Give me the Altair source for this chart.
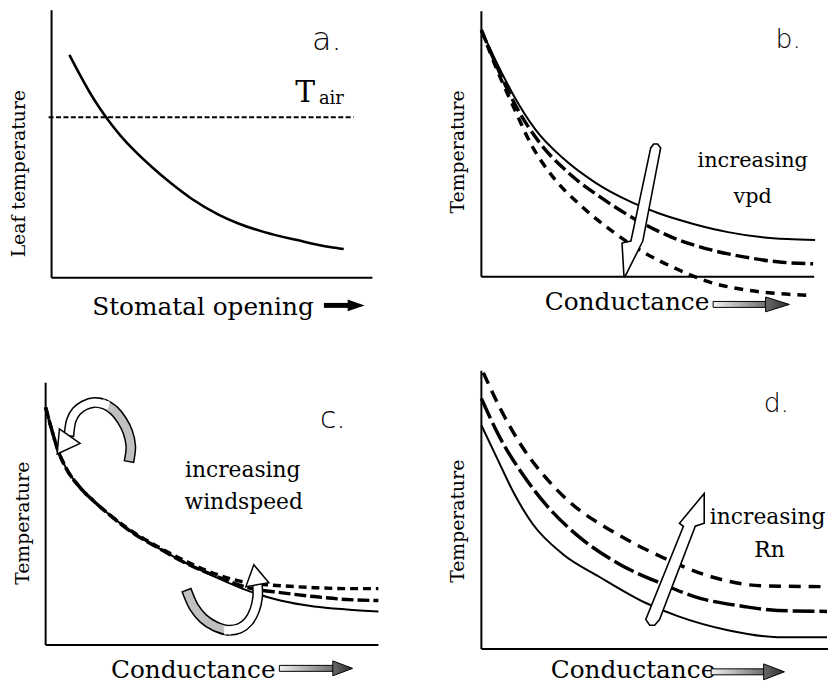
import altair as alt
import pandas as pd

# ---------------- chart values (schematic units, origin at each panel's axis corner, y upward) ---
# Panel a: leaf temperature vs stomatal opening
a_leaf_x = [18, 28, 38, 48, 58, 70, 84, 101, 121, 141, 168, 188, 215, 248, 281, 295]
a_leaf_y = [225, 206, 188, 172, 158, 143, 128, 112, 95, 80, 64, 55, 46, 38, 31, 29]
a_tair_x = [-3, 305]
a_tair_y = [162, 162]

# Panel b: increasing vpd
b_solid_x = [0, 19, 32, 55, 82, 115, 152, 179, 215, 249, 282, 309, 337]
b_solid_y = [249, 209, 184, 148, 120, 95, 75, 64, 53, 45, 40, 38, 37]
b_mid_x = [0, 18, 35, 59, 89, 122, 159, 192, 232, 265, 299, 335]
b_mid_y = [249, 207, 172, 135, 104, 79, 56, 40, 27, 20, 15, 13]
b_low_x = [0, 17, 34, 50, 72, 99, 132, 165, 199, 232, 265, 299, 335]
b_low_y = [249, 206, 168, 134, 101, 73, 46, 24, 7, -6, -13, -17, -19]

# Panel c: increasing windspeed
c_solid_x = [0, 6, 12, 21, 34, 49, 64, 87, 114, 141, 171, 204, 237, 271, 304, 336]
c_solid_y = [240, 218, 198, 178, 160, 145, 132, 114, 98, 83, 69, 55, 45, 39, 36, 34]
c_mid_x = [0, 6, 12, 21, 34, 49, 64, 87, 114, 141, 171, 204, 237, 271, 304, 336]
c_mid_y = [240, 218, 198, 178, 160, 145, 132, 114, 98, 83, 70, 58, 53, 49, 46, 45]
c_up_x = [0, 6, 12, 21, 34, 49, 64, 87, 114, 141, 171, 204, 237, 271, 304, 336]
c_up_y = [240, 218, 198, 178, 160, 145, 132, 115, 99, 85, 72, 63, 60, 58, 57, 57]
c_arc1_x = [85, 86, 83, 77, 69, 60, 49, 39, 31, 26, 24]
c_arc1_y = [190, 201, 215, 227, 237, 243, 245, 242, 236, 227, 216]
c_arc2_x = [144, 150, 159, 171, 184, 196, 205, 211, 214, 214]
c_arc2_y = [51, 38, 27, 19, 15, 17, 24, 35, 48, 59]

# Panel d: increasing Rn
d_solid_x = [0, 19, 32, 52, 82, 119, 165, 199, 249, 299, 349]
d_solid_y = [226, 186, 159, 126, 96, 73, 47, 33, 19, 12, 12]
d_mid_x = [0, 19, 42, 65, 99, 139, 182, 215, 265, 299, 349]
d_mid_y = [253, 213, 176, 146, 113, 86, 66, 53, 43, 39, 38]
d_up_x = [2, 19, 42, 65, 92, 132, 182, 232, 282, 349]
d_up_y = [279, 243, 203, 173, 146, 119, 93, 73, 64, 63]

# ---------------- layout ---------------------------------------------------------------
PAGE = 8
FRAMES = {  # left, top, width, height of each plot area on the page
    "a": (52, 7, 324, 270),
    "b": (486, 8, 336, 268),
    "c": (46, 383, 336, 265),
    "d": (486, 371, 350, 281),
}
SERIF = "DejaVu Serif"


def xsc(p):
    l, t, w, h = FRAMES[p]
    return alt.Scale(domain=[0, w], range=[l - PAGE, l - PAGE + w], nice=False, zero=False)


def ysc(p):
    l, t, w, h = FRAMES[p]
    return alt.Scale(domain=[0, h], range=[t - PAGE + h, t - PAGE], nice=False, zero=False)


def exy(p):
    return dict(x=alt.X("x:Q", scale=xsc(p), axis=None),
                y=alt.Y("y:Q", scale=ysc(p), axis=None))


def curve(p, xv, yv, **mk):
    df = pd.DataFrame({"x": xv, "y": yv, "i": list(range(len(xv)))})
    return alt.Chart(df).mark_line(**mk).encode(order="i:Q", **exy(p))


def axes(p):
    l, t, w, h = FRAMES[p]
    df = pd.DataFrame({"x": [0, 0], "y": [0, 0], "x2": [0, w], "y2": [h, 0]})
    return alt.Chart(df).mark_rule(color="black", strokeWidth=2).encode(
        x2="x2:Q", y2="y2:Q", **exy(p))


def label(p, x, y, s, **mk):
    df = pd.DataFrame({"x": [x], "y": [y], "t": [s]})
    base = dict(color="black", baseline="alphabetic")
    base.update(mk)
    return alt.Chart(df).mark_text(**base).encode(text="t:N", **exy(p))


def varea(p, xv, yv, y2v, **mk):
    df = pd.DataFrame({"x": xv, "y": yv, "y2": y2v})
    return alt.Chart(df).mark_area(orient="vertical", **mk).encode(y2="y2:Q", **exy(p))


def harea(p, yv, xv, x2v, **mk):
    df = pd.DataFrame({"y": yv, "x": xv, "x2": x2v})
    return alt.Chart(df).mark_area(orient="horizontal", **mk).encode(x2="x2:Q", **exy(p))


def grad(c0, c1):
    return alt.Gradient(gradient="linear",
                        stops=[alt.GradientStop(color=c0, offset=0),
                               alt.GradientStop(color=c1, offset=1)],
                        x1=0, x2=1, y1=0, y2=0)


def grad_arrow(p, x0, x1, x2, yc, hs, hh):
    shaft = varea(p, [x0, x1], [yc + hs, yc + hs], [yc - hs, yc - hs],
                  color=grad("#f2f2f2", "#6a6a6a"), stroke="black", strokeWidth=1)
    head = varea(p, [x1 - 2, x2], [yc + hh, yc], [yc - hh, yc],
                 color=grad("#6a6a6a", "#2a2a2a"), stroke="black", strokeWidth=1)
    return [shaft, head]


def band(p, xv, yv, split, fill_first, fill_rest):
    out = curve(p, xv, yv, color="black", strokeWidth=11, interpolate="catmull-rom", strokeCap="square")
    a = curve(p, xv[:split + 1], yv[:split + 1], color=fill_first, strokeWidth=8,
              interpolate="catmull-rom", strokeCap="square")
    b = curve(p, xv[split:], yv[split:], color=fill_rest, strokeWidth=8,
              interpolate="catmull-rom", strokeCap="square")
    return [out, a, b]


def head(p, x, y, angle, size):
    df = pd.DataFrame({"x": [x], "y": [y]})
    return alt.Chart(df).mark_point(shape="triangle-up", filled=True, fill="white", stroke="black",
                                    strokeWidth=1.5, size=size, angle=angle, opacity=1).encode(**exy(p))


layers = []

# ---- panel a ----
layers += [
    axes("a"),
    curve("a", a_tair_x, a_tair_y, color="black", strokeWidth=2, strokeDash=[5, 2.5]),
    curve("a", a_leaf_x, a_leaf_y, color="black", strokeWidth=2.6, interpolate="monotone"),
    label("a", 263, 230, "a.", font="DejaVu Sans", fontSize=32, fontWeight=200, align="left"),
    label("a", 246, 177, "T", font=SERIF, fontSize=30, align="left"),
    label("a", 270, 175, "air", font=SERIF, fontSize=18, align="left"),
    label("a", -33, 105, "Leaf temperature", font=SERIF, fontSize=19, angle=270,
          align="center", baseline="middle"),
    label("a", 41, -38, "Stomatal opening", font=SERIF, fontSize=25, align="left"),
    varea("a", [275, 301], [-25.5, -25.5], [-30.5, -30.5], color="black"),
    varea("a", [299, 316], [-22, -28], [-34, -28], color="black"),
]

# ---- panel b ----
layers += [
    axes("b"),
    curve("b", b_solid_x, b_solid_y, color="black", strokeWidth=2, interpolate="monotone"),
    curve("b", b_mid_x, b_mid_y, color="black", strokeWidth=3.5, strokeDash=[14, 5], interpolate="monotone"),
    curve("b", b_low_x, b_low_y, color="black", strokeWidth=3.5, strokeDash=[9, 7], interpolate="monotone"),
    harea("b", [0, 34, 36, 130, 134], [144, 142, 151, 171, 174], [145, 162, 163, 181, 178],
          color="white", stroke="black", strokeWidth=1.6),
    label("b", 297, 231, "b.", font="DejaVu Sans", fontSize=27, fontWeight=200, align="left"),
    label("b", 274, 111, "increasing", font=SERIF, fontSize=21, align="center"),
    label("b", 274, 74, "vpd", font=SERIF, fontSize=21, align="center"),
    label("b", -24, 126, "Temperature", font=SERIF, fontSize=19, angle=270,
          align="center", baseline="middle"),
    label("b", 64, -34, "Conductance", font=SERIF, fontSize=25, align="left"),
]
layers += grad_arrow("b", 234, 289, 311, -28, 3, 7.5)

# ---- panel c ----
layers += [
    axes("c"),
    curve("c", c_solid_x, c_solid_y, color="black", strokeWidth=2, interpolate="monotone"),
    curve("c", c_mid_x, c_mid_y, color="black", strokeWidth=3.5, strokeDash=[12, 4], interpolate="monotone"),
    curve("c", c_up_x, c_up_y, color="black", strokeWidth=3.5, strokeDash=[8, 5], interpolate="monotone"),
]
layers += band("c", c_arc1_x, c_arc1_y, 5, "#c0c0c0", "white")
layers += [head("c", 18, 202, 215, 650)]
layers += band("c", c_arc2_x, c_arc2_y, 4, "#c0c0c0", "white")
layers += [head("c", 212, 71, 350, 560)]
layers += [
    label("c", 277, 219, "c.", font="DejaVu Sans", fontSize=30, fontWeight=200, align="left"),
    label("c", 199, 170, "increasing", font=SERIF, fontSize=22, align="center"),
    label("c", 200, 137, "windspeed", font=SERIF, fontSize=22, align="center"),
    label("c", -23, 123, "Temperature", font=SERIF, fontSize=19, angle=270,
          align="center", baseline="middle"),
    label("c", 66, -33, "Conductance", font=SERIF, fontSize=25, align="left"),
]
layers += grad_arrow("c", 236, 292, 310, -23.5, 3, 7.5)

# ---- panel d ----
layers += [
    axes("d"),
    curve("d", d_solid_x, d_solid_y, color="black", strokeWidth=2, interpolate="monotone"),
    curve("d", d_mid_x, d_mid_y, color="black", strokeWidth=3.5, strokeDash=[22, 5], interpolate="monotone"),
    curve("d", d_up_x, d_up_y, color="black", strokeWidth=3.5, strokeDash=[12, 8], interpolate="monotone"),
    harea("d", [24, 30, 124, 127, 157], [170, 166, 204, 200, 225], [175, 180, 216, 225, 225],
          color="white", stroke="black", strokeWidth=1.6),
    label("d", 285, 239, "d.", font="DejaVu Sans", fontSize=27, fontWeight=200, align="left"),
    label("d", 289, 126, "increasing", font=SERIF, fontSize=22, align="center"),
    label("d", 291, 93, "Rn", font=SERIF, fontSize=22, align="center"),
    label("d", -24, 129, "Temperature", font=SERIF, fontSize=19, angle=270,
          align="center", baseline="middle"),
    label("d", 70, -29, "Conductance", font=SERIF, fontSize=25, align="left"),
]
layers += grad_arrow("d", 232, 287, 306, -23, 3, 8)

chart = (
    alt.layer(*layers)
    .resolve_scale(x="independent", y="independent")
    .properties(width=828, height=677, padding=0, background="white",
                autosize=alt.AutoSizeParams(type="none"))
    .configure_view(stroke=None)
)

chart.save("out.html", embed_options={"renderer": "svg", "actions": False})
